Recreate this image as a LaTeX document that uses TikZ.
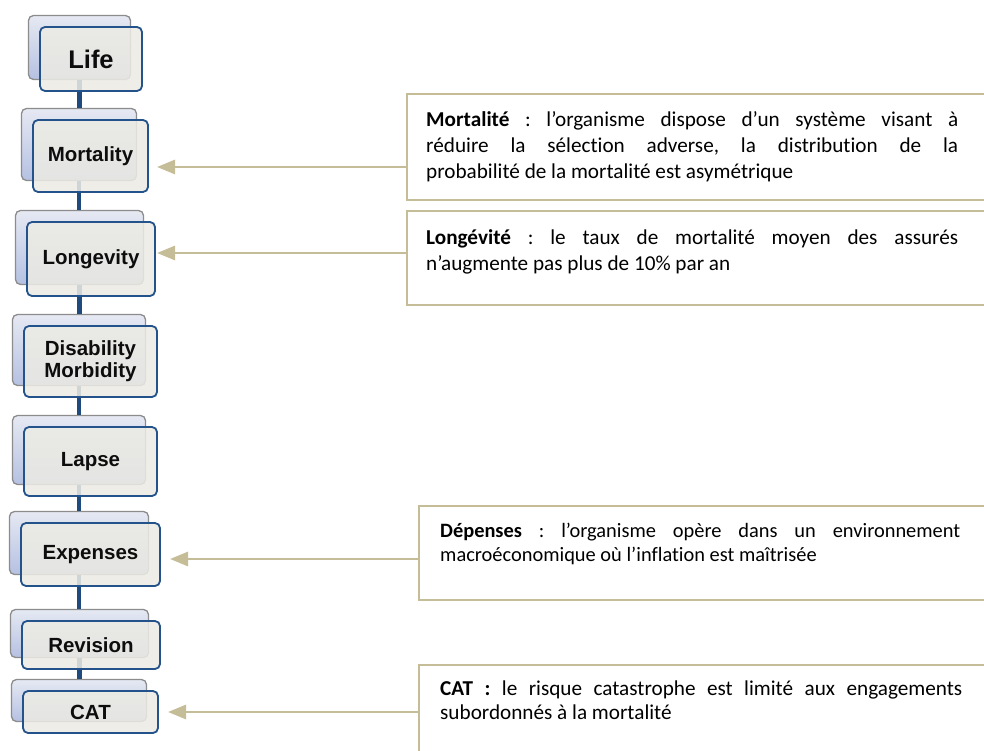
\documentclass[tikz,border=0pt]{standalone}
\usepackage{fontspec}
\setmainfont{Carlito}[Ligatures=NoCommon]
\newfontfamily\arialf{Liberation Sans}
\usetikzlibrary{arrows.meta}

\definecolor{tanc}{HTML}{C4BD97}
\definecolor{navy}{HTML}{24528A}
\definecolor{frontfill}{HTML}{ECEBE4}
\definecolor{backtop}{HTML}{E6E9F3}
\definecolor{backbot}{HTML}{B5C1E2}
\definecolor{backdraw}{HTML}{8C8C8C}
\definecolor{spinec}{HTML}{1F4A7E}
\newcommand\normsp{\spaceskip=0pt\xspaceskip=0pt\rightskip=0pt\frenchspacing\relax}

\begin{document}
\begin{tikzpicture}[x=1pt,y=-1pt,
  front/.style={draw=navy, line width=1.8pt, fill=frontfill, fill opacity=0.86, text opacity=1,
    rounded corners=5pt, font=\arialf\bfseries\fontsize{20.5}{22}\selectfont, align=center,
    inner sep=0pt, text=black!95},
  back/.style={draw=backdraw, line width=1.3pt, top color=backtop, bottom color=backbot,
    rounded corners=5pt, inner sep=0pt},
  spine/.style={draw=spinec, line width=4.2pt},
  tframe/.style={draw=tanc, line width=2pt, inner sep=0pt, anchor=north west},
  ttext/.style={anchor=base west, inner sep=0pt, align=justify, font=\fontsize{21.2}{26}\selectfont},
  arr/.style={draw=tanc, line width=2.8pt, -{Triangle[length=18pt,width=14pt]}}
]
\useasboundingbox (0,0) rectangle (984,751);
\clip (0,0) rectangle (984,751);
\fill[white] (0,0) rectangle (984,751);

% back boxes
\node[back, minimum width=102pt, minimum height=64pt] (lifeb) at (79.5,47.5) {};
\node[back, minimum width=115pt, minimum height=72pt] (mortb) at (79,144.5) {};
\node[back, minimum width=128pt, minimum height=74pt] (longb) at (79.5,247.5) {};
\node[back, minimum width=133pt, minimum height=71pt] (disb) at (79,350) {};
\node[back, minimum width=133pt, minimum height=69pt] (lapb) at (79,450) {};
\node[back, minimum width=139pt, minimum height=63pt] (expb) at (79,543) {};
\node[back, minimum width=138pt, minimum height=48pt] (revb) at (79.5,633.5) {};
\node[back, minimum width=135pt, minimum height=42pt] (catb) at (79,700.5) {};

% spine
\draw[spine] (lifeb.south) -- (lifeb.south |- mortb.north);
\draw[spine] (mortb.south) -- (mortb.south |- longb.north);
\draw[spine] (longb.south) -- (longb.south |- disb.north);
\draw[spine] (disb.south) -- (disb.south |- lapb.north);
\draw[spine] (lapb.south) -- (lapb.south |- expb.north);
\draw[spine] (expb.south) -- (expb.south |- revb.north);
\draw[spine] (revb.south) -- (revb.south |- catb.north);

% front boxes
\node[front, minimum width=102pt, minimum height=64pt, font=\arialf\bfseries\fontsize{25.5}{27}\selectfont] (life) at (91,59) {Life};
\node[front, minimum width=115pt, minimum height=72pt] (mort) at (90.5,156) {Mortality};
\node[front, minimum width=128pt, minimum height=74pt] (long) at (91,259) {Longevity};
\node[front, minimum width=133pt, minimum height=71pt] (dis) at (90.5,361.5) {Disability\\Morbidity};
\node[front, minimum width=133pt, minimum height=69pt] (lap) at (90.5,461.5) {Lapse};
\node[front, minimum width=139pt, minimum height=63pt] (exp) at (90.5,554.5) {Expenses};
\node[front, minimum width=138pt, minimum height=48pt] (rev) at (91,645) {Revision};
\node[front, minimum width=135pt, minimum height=42pt] (cat) at (90.5,712) {CAT};

% text frames
\node[tframe, minimum width=620pt, minimum height=106pt] (tm) at (406,93) {};
\node[tframe, minimum width=620pt, minimum height=94pt] (tl) at (406,210) {};
\node[tframe, minimum width=620pt, minimum height=94pt] (td) at (418,505) {};
\node[tframe, minimum width=620pt, minimum height=120pt] (tc) at (418,664) {};

% texts
\node[ttext, text width=532pt] (tmt) at (426,127) {\normsp
\makebox[532pt][s]{\textbf{Mortalité} : l’organisme dispose d’un système visant à}\\
\makebox[532pt][s]{réduire la sélection adverse, la distribution de la}\\
probabilité de la mortalité est asymétrique};
\node[ttext, text width=532pt] (tlt) at (426,244) {\normsp
\makebox[532pt][s]{\textbf{Longévité} : le taux de mortalité moyen des assurés}\\
n’augmente pas plus de 10\% par an};
\node[ttext, text width=522pt, font=\fontsize{20.4}{24.5}\selectfont] (tdt) at (440,537) {\normsp
\makebox[520pt][s]{\textbf{Dépenses} : l’organisme opère dans un environnement}\\
macroéconomique où l’inflation est maîtrisée};
\node[ttext, text width=522pt, font=\fontsize{21.2}{24}\selectfont] (tct) at (440,695) {\normsp
\makebox[522pt][s]{\textbf{CAT :} le risque catastrophe est limité aux engagements}\\
subordonnés à la mortalité};

% arrows
\coordinate (a1) at (157,167);
\coordinate (a2) at (157,253);
\coordinate (a3) at (170,559);
\coordinate (a4) at (168,712);
\draw[arr] (tm.west |- a1) -- (a1);
\draw[arr] (tl.west |- a2) -- (a2);
\draw[arr] (td.west |- a3) -- (a3);
\draw[arr] (tc.west |- a4) -- (a4);
\end{tikzpicture}
\end{document}
